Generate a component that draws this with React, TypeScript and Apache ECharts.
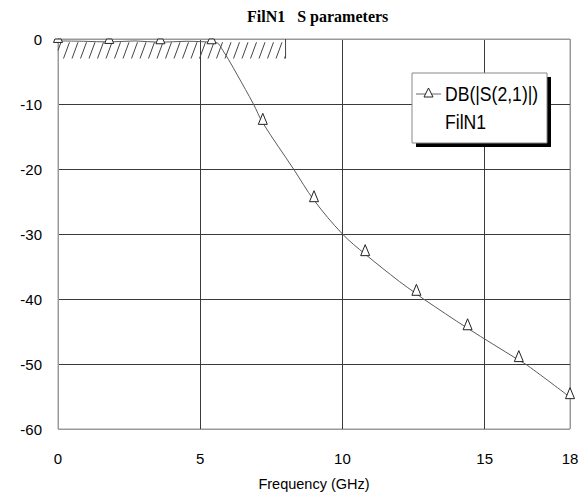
import React, { useEffect, useRef } from "react";
import * as echarts from "echarts";

// ---- data ----
const freqGHz = [0, 0.9, 1.8, 2.7, 3.6, 4.5, 5.0, 5.4, 5.6, 5.8, 6.0, 6.3, 6.87, 7.2, 8.28, 9.0, 10.0, 10.8, 12.0, 12.6, 12.85, 14.4, 16.2, 16.5, 18.0];
const s21dB = [-0.3, -0.35, -0.45, -0.3, -0.5, -0.35, -0.4, -0.5, -0.6, -1.8, -3.2, -5.5, -10, -12.9, -20, -24.8, -30, -33.1, -37.3, -39.2, -40, -44.5, -49.4, -50.2, -55.1];
const markerFreqs = [0, 1.8, 3.6, 5.4, 7.2, 9.0, 10.8, 12.6, 14.4, 16.2, 18.0];
const xTicks = [0, 5, 10, 15, 18];
const yTicks = [-60, -50, -40, -30, -20, -10, 0];
// spec mask region (GHz, dB)
const maskFreq = [0, 8];
const maskDB = [-0.5, -3];
const seriesName = "DB(|S(2,1)|)";
const seriesSub = "FilN1";
const titleText = "FilN1   S parameters";
const xName = "Frequency (GHz)";

const SANS = "Liberation Sans, Arial, sans-serif";

export default function App() {
  const ref = useRef<HTMLDivElement>(null);
  useEffect(() => {
    if (!ref.current) return;
    const chart = echarts.init(ref.current, null, { renderer: "svg" });
    const curve = freqGHz.map((f, i) => [f, s21dB[i]]);
    const markers = markerFreqs.map((f) => [f, s21dB[freqGHz.indexOf(f)]]);
    const gridCol = "#3a3a3a";
    const frameCol = "#9a9a9a";

    const option: any = {
      animation: false,
      backgroundColor: "#fff",
      title: {
        text: titleText,
        left: 242,
        top: 3,
        textStyle: { fontFamily: "Liberation Serif, Times New Roman, serif", fontWeight: "bold", fontSize: 16, color: "#000" },
      },
      grid: { left: 58, right: 16, top: 39, bottom: 68, show: true, borderColor: frameCol, borderWidth: 1, backgroundColor: "transparent" },
      xAxis: {
        type: "value",
        min: xTicks[0],
        max: xTicks[xTicks.length - 1],
        interval: 5,
        axisLine: { show: true, lineStyle: { color: frameCol, width: 1 } },
        axisTick: { show: false },
        axisLabel: { margin: 22, fontSize: 15, color: "#000", fontFamily: SANS, showMaxLabel: true },
        splitLine: { show: true, lineStyle: { color: [frameCol, gridCol, gridCol, gridCol, frameCol], width: 1 } },
        name: xName,
        nameLocation: "middle",
        nameGap: 55,
        nameTextStyle: { fontSize: 14.5, color: "#000", fontFamily: SANS, verticalAlign: "middle" },
      },
      yAxis: {
        type: "value",
        min: yTicks[0],
        max: yTicks[yTicks.length - 1],
        interval: 10,
        axisLine: { show: true, lineStyle: { color: frameCol, width: 1 } },
        axisTick: { show: false },
        axisLabel: { margin: 16, fontSize: 15, color: "#000", fontFamily: SANS },
        splitLine: { show: true, lineStyle: { color: [frameCol, gridCol, gridCol, gridCol, gridCol, gridCol, frameCol], width: 1 } },
      },
      series: [
        {
          type: "custom",
          silent: true,
          z: 1,
          data: [[maskFreq[0], maskDB[0], maskFreq[1], maskDB[1]]],
          renderItem: (params: any, api: any) => {
            const pTL = api.coord([api.value(0), api.value(1)]);
            const pBR = api.coord([api.value(2), api.value(3)]);
            const left = pTL[0], right = pBR[0], top = pTL[1], bot = pBR[1];
            const dx = 6, step = 8.5;
            const children: any[] = [];
            for (let bx = left - dx + 3; bx < right; bx += step) {
              let x1 = bx, y1 = bot, x2 = bx + dx, y2 = top;
              if (x1 < left) {
                y1 = bot - ((left - bx) / dx) * (bot - top);
                x1 = left;
              }
              if (x2 > right) {
                y2 = bot - ((right - bx) / dx) * (bot - top);
                x2 = right;
              }
              children.push({ type: "line", shape: { x1, y1, x2, y2 }, style: { stroke: "#444", lineWidth: 1 } });
            }
            const top0 = api.coord([api.value(2), 0])[1];
            children.push({ type: "line", shape: { x1: right, y1: top0, x2: right, y2: bot }, style: { stroke: "#444", lineWidth: 1 } });
            return { type: "group", children };
          },
        },
        {
          type: "line",
          name: seriesName,
          data: curve,
          showSymbol: false,
          smooth: 0.35,
          z: 3,
          lineStyle: { color: "#5a5a5a", width: 1 },
        },
        {
          type: "custom",
          name: seriesName + " markers",
          data: markers,
          z: 4,
          silent: true,
          renderItem: (params: any, api: any) => {
            const p = api.coord([api.value(0), api.value(1)]);
            const topY = api.coord([api.value(0), 0])[1];
            const hw = 4.5, h = 11;
            const base = p[1] + 1.5;
            const apex = base - h;
            const cx = p[0];
            let points: number[][];
            if (apex >= topY) {
              points = [[cx - hw, base], [cx + hw, base], [cx, apex]];
            } else {
              const t = (base - topY) / h;
              const w = hw * (1 - t);
              points = [[cx - hw, base], [cx + hw, base], [cx + w, topY], [cx - w, topY]];
            }
            return { type: "polygon", shape: { points }, style: { fill: "#fff", stroke: "#222", lineWidth: 1 } };
          },
        },
      ],
      graphic: [
        { type: "rect", shape: { x: 416, y: 77, width: 135, height: 70 }, style: { fill: "#000" }, z: 20 },
        { type: "rect", shape: { x: 412, y: 73, width: 135, height: 70 }, style: { fill: "#fff", stroke: "#888", lineWidth: 1 }, z: 21 },
        { type: "line", shape: { x1: 416, y1: 94, x2: 441, y2: 94 }, style: { stroke: "#666", lineWidth: 1 }, z: 22 },
        { type: "polygon", shape: { points: [[424, 97], [428.5, 88], [433, 97]] }, style: { fill: "#fff", stroke: "#222", lineWidth: 1 }, z: 23 },
        { type: "text", x: 445, y: 94, scaleX: 0.88, style: { text: seriesName, fontSize: 20, fontFamily: SANS, fill: "#000", verticalAlign: "middle" }, z: 23 },
        { type: "text", x: 445, y: 122, scaleX: 0.88, style: { text: seriesSub, fontSize: 20, fontFamily: SANS, fill: "#000", verticalAlign: "middle" }, z: 23 },
      ],
    };
    chart.setOption(option);
    return () => chart.dispose();
  }, []);
  return <div ref={ref} style={{ position: "fixed", left: 0, top: 0, width: 586, height: 497 }} />;
}
